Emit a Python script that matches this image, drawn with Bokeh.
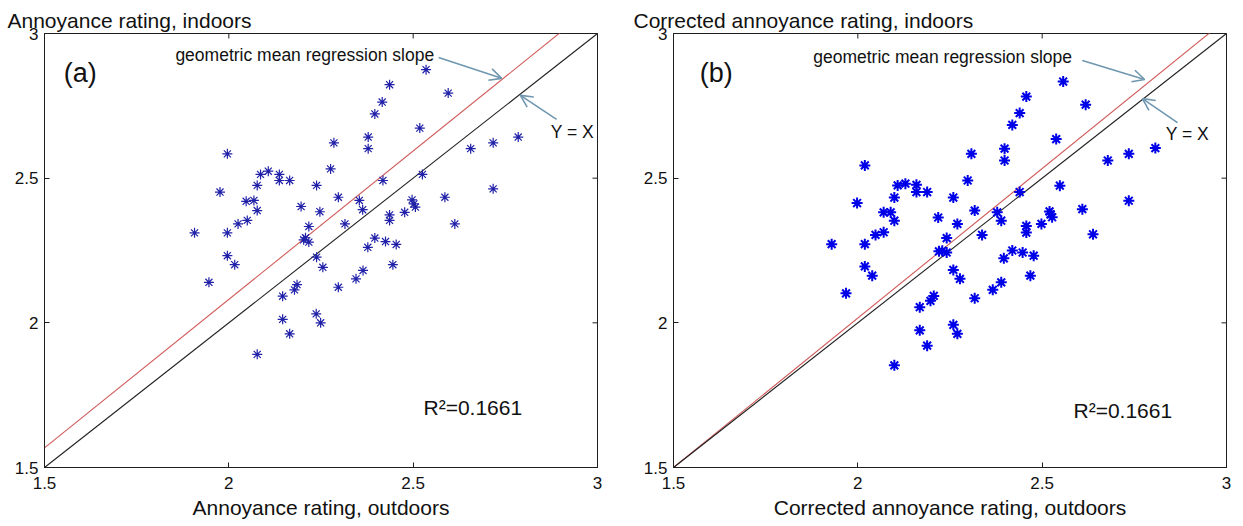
import math
from bokeh.plotting import figure
from bokeh.models import (Range1d, FixedTicker, Label, Arrow, OpenHead, Title,
                          ColumnDataSource, NumeralTickFormatter)
from bokeh.layouts import row
from bokeh.embed import file_html
from bokeh.resources import INLINE

FONT = "Liberation Sans"

# ---------------- data ----------------
axis_ticks = [1.5, 2.0, 2.5, 3.0]

# panel (a): annoyance rating outdoors (x) vs indoors (y)
a_outdoor = [1.996, 2.285, 1.976, 2.086, 2.107, 2.137, 2.137, 2.165, 2.077, 2.238,
             2.276, 2.047, 2.068, 2.077, 2.297, 2.196, 2.247, 2.025, 2.050, 1.907,
             1.996, 2.217, 2.315, 2.203, 2.217, 2.208, 1.996, 2.016, 2.238, 2.255,
             1.946, 2.185, 2.178, 2.297, 2.345, 2.146, 2.146, 2.237, 2.249, 2.165,
             2.077, 2.535, 2.436, 2.416, 2.396, 2.595, 2.518, 2.378, 2.378, 2.656,
             2.717, 2.785, 2.418, 2.525, 2.717, 2.354, 2.363, 2.497, 2.506, 2.502,
             2.436, 2.436, 2.477, 2.586, 2.613, 2.396, 2.425, 2.454, 2.377, 2.445,
             2.364]
a_indoor = [2.584, 2.622, 2.452, 2.513, 2.524, 2.513, 2.492, 2.492, 2.475, 2.475,
            2.532, 2.420, 2.423, 2.388, 2.434, 2.402, 2.384, 2.342, 2.354, 2.311,
            2.311, 2.333, 2.342, 2.287, 2.279, 2.294, 2.232, 2.201, 2.227, 2.192,
            2.140, 2.132, 2.114, 2.123, 2.152, 2.092, 2.012, 2.031, 2.000, 1.962,
            1.891, 2.875, 2.823, 2.763, 2.722, 2.794, 2.673, 2.642, 2.602, 2.602,
            2.622, 2.642, 2.492, 2.513, 2.463, 2.423, 2.391, 2.425, 2.400, 2.411,
            2.373, 2.354, 2.382, 2.434, 2.342, 2.293, 2.281, 2.271, 2.261, 2.201,
            2.181]

# panel (b): corrected annoyance rating outdoors (x) vs indoors (y)
b_outdoor = [2.019, 2.308, 1.998, 2.108, 2.129, 2.159, 2.159, 2.188, 2.099, 2.259,
             2.298, 2.070, 2.089, 2.099, 2.317, 2.218, 2.270, 2.048, 2.070, 1.929,
             2.019, 2.241, 2.337, 2.220, 2.229, 2.241, 2.019, 2.039, 2.259, 2.277,
             1.968, 2.206, 2.197, 2.317, 2.366, 2.168, 2.168, 2.259, 2.270, 2.188,
             2.099, 2.557, 2.457, 2.439, 2.419, 2.618, 2.538, 2.398, 2.398, 2.678,
             2.735, 2.807, 2.439, 2.548, 2.735, 2.378, 2.389, 2.520, 2.527, 2.523,
             2.457, 2.457, 2.498, 2.609, 2.638, 2.419, 2.447, 2.477, 2.396, 2.468,
             2.389]
b_indoor = [2.544, 2.584, 2.414, 2.475, 2.481, 2.477, 2.452, 2.452, 2.433, 2.433,
            2.492, 2.382, 2.382, 2.353, 2.388, 2.364, 2.342, 2.304, 2.313, 2.272,
            2.272, 2.293, 2.304, 2.247, 2.249, 2.243, 2.195, 2.163, 2.183, 2.152,
            2.102, 2.093, 2.076, 2.085, 2.114, 2.054, 1.974, 1.993, 1.962, 1.921,
            1.853, 2.834, 2.782, 2.725, 2.684, 2.754, 2.635, 2.602, 2.561, 2.561,
            2.584, 2.604, 2.452, 2.474, 2.422, 2.382, 2.353, 2.385, 2.365, 2.375,
            2.335, 2.312, 2.342, 2.393, 2.306, 2.250, 2.243, 2.232, 2.223, 2.163,
            2.140]

# geometric mean regression lines (value at x=1.5, slope)
gm_a_at_start, gm_a_slope = 1.568, 1.026
gm_b_at_start, gm_b_slope = 1.500, 1.033
r_squared = 0.1661

titles_y = ["Annoyance rating, indoors", "Corrected annoyance rating, indoors"]
titles_x = ["Annoyance rating, outdoors", "Corrected annoyance rating, outdoors"]
panel_tags = ["(a)", "(b)"]

AX_COLOR = "#1e1e1e"
ARROW_COLOR = "#6f97b0"


def make_panel(xs, ys, at_start, slope, xlabel, ylabel, tag, bold, left_border, right_border,
               width, layout):
    p = figure(width=width, height=526, x_range=Range1d(1.5, 3.0), y_range=Range1d(1.5, 3.0),
               output_backend="svg", toolbar_location=None,
               min_border_left=left_border, min_border_right=right_border,
               min_border_top=33, min_border_bottom=59,
               background_fill_color="white", border_fill_color="white")
    p.outline_line_color = AX_COLOR
    p.outline_line_width = 1
    p.xgrid.visible = False
    p.ygrid.visible = False

    p.title = Title(text=ylabel, align="left", offset=layout["title_offset"],
                    text_font=FONT, text_font_size="21px", text_font_style="normal",
                    text_color="#111111", standoff=3)

    fmt = NumeralTickFormatter(format="0.[0]")
    for ax in (p.xaxis[0], p.yaxis[0]):
        ax.ticker = FixedTicker(ticks=axis_ticks)
        ax.formatter = fmt
        ax.major_tick_in = 5
        ax.major_tick_out = 0
        ax.minor_tick_line_color = None
        ax.axis_line_color = AX_COLOR
        ax.major_tick_line_color = AX_COLOR
        ax.major_label_text_font = FONT
        ax.major_label_text_font_size = "17px"
        ax.major_label_text_color = "#111111"
    p.xaxis[0].major_label_standoff = 9
    p.yaxis[0].major_label_standoff = 6
    p.xaxis[0].axis_label = xlabel
    p.xaxis[0].axis_label_text_font = FONT
    p.xaxis[0].axis_label_text_font_size = "21px"
    p.xaxis[0].axis_label_text_font_style = "normal"
    p.xaxis[0].axis_label_text_color = "#111111"
    p.xaxis[0].axis_label_standoff = 4

    # inward tick marks on the top and right edges of the box (half clipped by the frame)
    top_y = [3.0] * len(axis_ticks)
    p.scatter(axis_ticks, top_y, marker="dash", angle=math.pi / 2, size=10,
              line_color=AX_COLOR, line_width=1)
    p.scatter(top_y, axis_ticks, marker="dash", size=10, line_color=AX_COLOR, line_width=1)

    # reference and regression lines
    line_x = [1.5, 3.0]
    reg_y = [at_start + slope * (v - 1.5) for v in line_x]
    p.line(line_x, reg_y, line_color="#d05a5a", line_width=1.1)
    p.line(line_x, line_x, line_color="#202020", line_width=1.1)

    src = ColumnDataSource(dict(x=xs, y=ys))
    if bold:
        p.scatter("x", "y", source=src, marker="circle", size=5, fill_color="#0000e8",
                  line_color=None)
        p.scatter("x", "y", source=src, marker="asterisk", size=11, line_color="#0000e8",
                  line_width=2)
    else:
        p.scatter("x", "y", source=src, marker="asterisk", size=10, line_color="#2020a8",
                  line_width=1.2)

    lt = dict(text_font=FONT, text_color="#111111")
    p.add_layout(Label(x=layout["tag_x"], y=2.865, text=tag, text_font_size="27px",
                       text_baseline="middle", **lt))
    p.add_layout(Label(x=layout["gm_x"], y=layout["gm_y"], text="geometric mean regression slope",
                       text_font_size="17.5px", text_baseline="middle", **lt))
    p.add_layout(Label(x=layout["yx_x"], y=layout["yx_y"], text="Y = X",
                       text_font_size="17.5px", text_baseline="middle", **lt))
    p.add_layout(Label(x=layout["r2_x"], y=layout["r2_y"], text="R\u00b2=%.4f" % r_squared,
                       text_font_size="21px", text_baseline="middle", **lt))

    for (x0, y0, x1, y1) in layout["arrows"]:
        p.add_layout(Arrow(x_start=x0, y_start=y0, x_end=x1, y_end=y1,
                           line_color=ARROW_COLOR, line_width=1.6,
                           end=OpenHead(size=12, line_color=ARROW_COLOR, line_width=1.6)))
    return p


layout_a = dict(title_offset=-37, tag_x=1.552, gm_x=1.855, gm_y=2.924,
                yx_x=2.873, yx_y=2.661, r2_x=2.528, r2_y=1.707,
                arrows=[(2.569, 2.917, 2.740, 2.845), (2.889, 2.703, 2.791, 2.786)])
layout_b = dict(title_offset=-40, tag_x=1.571, gm_x=1.879, gm_y=2.920,
                yx_x=2.835, yx_y=2.651, r2_x=2.585, r2_y=1.697,
                arrows=[(2.609, 2.907, 2.778, 2.841), (2.867, 2.692, 2.772, 2.775)])

p1 = make_panel(a_outdoor, a_indoor, gm_a_at_start, gm_a_slope, titles_x[0], titles_y[0],
                panel_tags[0], False, 44, 24, 621, layout_a)
p2 = make_panel(b_outdoor, b_indoor, gm_b_at_start, gm_b_slope, titles_x[1], titles_y[1],
                panel_tags[1], True, 52, 17, 622, layout_b)

page = row(p1, p2)
open("out.html", "w").write(file_html(page, INLINE))
